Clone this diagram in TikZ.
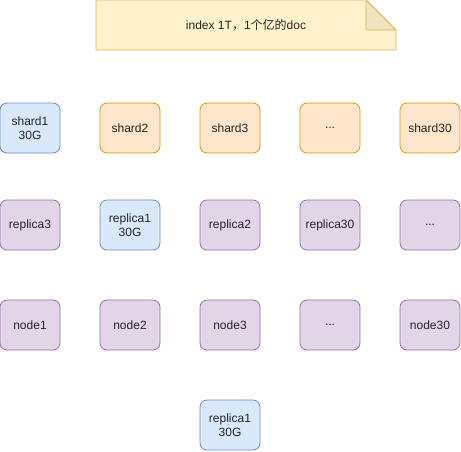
\documentclass[tikz,border=0pt]{standalone}
\usepackage{fontspec}
\setmainfont{Liberation Sans}
\newfontfamily\cjk{Noto Sans CJK SC}
\usepackage{xcolor}
\definecolor{bluefill}{HTML}{DAE8FC}
\definecolor{bluedraw}{HTML}{6C8EBF}
\definecolor{orangefill}{HTML}{FFE6CC}
\definecolor{orangedraw}{HTML}{D79B00}
\definecolor{purplefill}{HTML}{E1D5E7}
\definecolor{purpledraw}{HTML}{9673A6}
\definecolor{notefill}{HTML}{FFF2CC}
\definecolor{notedraw}{HTML}{D6B656}
\definecolor{foldfill}{HTML}{F0E3C0}
\tikzset{
  box/.style={draw, line width=0.8pt, rounded corners=7pt, align=center,
    minimum width=60pt, minimum height=50pt, inner sep=0pt,
    font=\fontsize{12}{14.5}\selectfont, text=black!85},
  primary/.style={box, draw=bluedraw, fill=bluefill},
  shardbox/.style={box, draw=orangedraw, fill=orangefill},
  replicabox/.style={box, draw=purpledraw, fill=purplefill},
  hostbox/.style={box, draw=purpledraw, fill=purplefill},
  note/.style={draw=notedraw, line width=0.8pt, fill=notefill, line join=miter},
  fold/.style={draw=notedraw, line width=0.8pt, fill=foldfill}
}

\begin{document}
\begin{tikzpicture}[x=1pt, y=-1pt]
  \useasboundingbox (0,0) rectangle (461,451);

  % note on top
  \draw[note] (96,0) -- (366,0) -- (396,30) -- (396,50) -- (96,50) -- cycle;
  \draw[fold] (366,0) -- (366,30) -- (396,30) -- cycle;
  \node[font=\fontsize{12}{14.5}\selectfont, text=black!85] (title) at (246,25)
    {index 1T{\cjk ，}1{\cjk 个亿的}doc};

  % primary shards
  \node[primary] (shard1) at (30,128) {shard1\\30G};
  \node[shardbox] (shard2) at (130,128) {shard2};
  \node[shardbox] (shard3) at (230,128) {shard3};
  \node[shardbox] (shardn) at (330,128) {...};
  \node[shardbox] (shard30) at (430,128) {shard30};

  % replicas
  \node[replicabox] (replica3) at (30,225) {replica3};
  \node[primary] (replica1) at (130,225) {replica1\\30G};
  \node[replicabox] (replica2) at (230,225) {replica2};
  \node[replicabox] (replica30) at (330,225) {replica30};
  \node[replicabox] (replican) at (430,225) {...};

  % nodes
  \node[hostbox] (node1) at (30,325) {node1};
  \node[hostbox] (node2) at (130,325) {node2};
  \node[hostbox] (node3) at (230,325) {node3};
  \node[hostbox] (noden) at (330,325) {...};
  \node[hostbox] (node30) at (430,325) {node30};

  \node[primary] (replicaone) at (230,425) {replica1\\30G};
\end{tikzpicture}
\end{document}
